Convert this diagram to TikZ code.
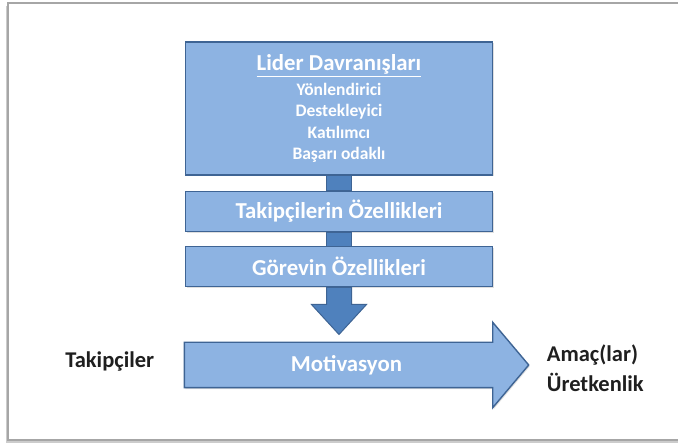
\documentclass[tikz,border=0pt]{standalone}
\usepackage{fontspec}
\setmainfont{Carlito}
\usetikzlibrary{positioning,calc,shadows}
\definecolor{boxfill}{RGB}{141,179,226}
\definecolor{boxline}{RGB}{62,100,148}
\definecolor{linkfill}{RGB}{79,129,189}
\tikzset{
  box/.style={draw=boxline, line width=1.4pt, fill=boxfill, text=white,
    font=\bfseries\fontsize{22.8}{26}\selectfont, minimum width=307pt,
    minimum height=40pt, inner sep=0pt,
    drop shadow={opacity=0.25, shadow xshift=1pt, shadow yshift=-1.5pt}},
  link/.style={draw=boxline, line width=1pt, fill=linkfill},
  side/.style={font=\bfseries\fontsize{22.5}{30}\selectfont, text=black!88, align=left, inner sep=0pt},
}
\begin{document}
\begin{tikzpicture}[x=1pt, y=-1pt, node distance=15pt]
      \useasboundingbox (0,0) rectangle (678,446);
      % Frame
      \draw[black!35, line width=1.4pt, fill=white,
        drop shadow={opacity=0.4, shadow xshift=-2pt, shadow yshift=-3pt}] (8,3) rectangle (700,440);

      % Define nodes
      \node[box, minimum height=133pt, align=center,
        font=\bfseries\fontsize{17.5}{21.5}\selectfont] (lider) at (339,108.5)
        {{\fontsize{22.8}{26}\selectfont\underline{Lider Davranışları}}\\[3pt]
         Yönlendirici\\ Destekleyici\\ Katılımcı\\ Başarı odaklı};
      \node[box, below=of lider]  (takipci) {Takipçilerin Özellikleri};
      \node[box, below=14pt of takipci]  (gorev) {Görevin Özellikleri};
      \node[box, draw=none, fill=none, drop shadow={opacity=0}, minimum height=44pt] (motivasyon) at (338.5,365) {};
      \coordinate (tip) at ($(motivasyon.east)+(36,0)$);

      % Connect the nodes
      \draw[link] ($(lider.south)+(-12.5,0)$) rectangle ($(takipci.north)+(12.5,0)$);
      \draw[link] ($(takipci.south)+(-12.5,0)$) rectangle ($(gorev.north)+(12.5,0)$);
      \draw[link] ($(gorev.south)+(-12.5,0)$) -- ++(0,17) -- ++(-15,0)
        -- ($(gorev.south)+(0,47)$) -- ++(27.5,-30) -- ++(-15,0) -- ($(gorev.south)+(12.5,0)$) -- cycle;
      \draw[box, minimum width=0pt] (motivasyon.north west) -- (motivasyon.north east) -- ++(0,-20)
        -- (tip) -- ($(motivasyon.south east)+(0,20)$) -- (motivasyon.south east)
        -- (motivasyon.south west) -- cycle;
      \node[text=white, font=\bfseries\fontsize{22.8}{26}\selectfont, xshift=8pt] at (motivasyon) {Motivasyon};

      % Side texts
      \node[side, left=30pt of motivasyon, yshift=4pt] (takipciler) {Takipçiler};
      \node[side, right=18pt of tip, yshift=-3pt] (amac) {Amaç(lar)\\Üretkenlik};
\end{tikzpicture}
\end{document}
